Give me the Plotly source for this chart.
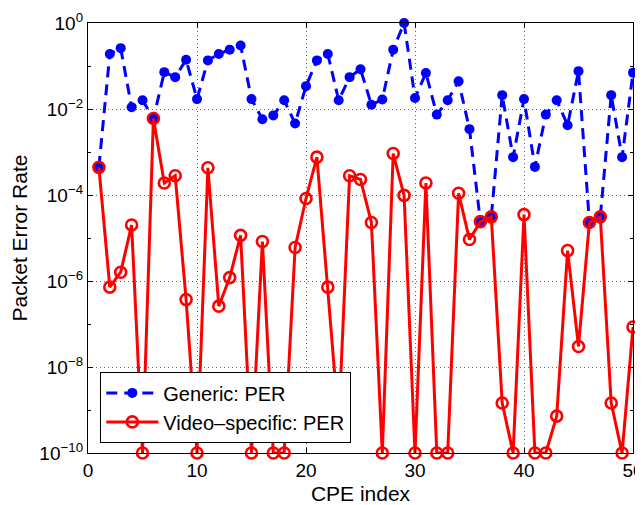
import plotly.graph_objects as go

cpe_index = list(range(1, 51))

generic_per = [
    4.5e-4, 0.19, 0.26, 0.011, 0.016, 0.006, 0.072, 0.055, 0.14, 0.017,
    0.135, 0.19, 0.24, 0.30, 0.017, 0.0058, 0.0071, 0.016, 0.0046, 0.034,
    0.135, 0.19, 0.016, 0.055, 0.084, 0.0126, 0.0166, 0.24, 1.0, 0.018,
    0.069, 0.0074, 0.016, 0.044, 0.0034, 2.4e-5, 3.1e-5, 0.021, 7.6e-4, 0.017,
    4.5e-4, 0.0074, 0.016, 0.0042, 0.076, 2.3e-5, 3.1e-5, 0.021, 7.6e-4, 0.07,
]

video_per = [
    4.4e-4, 7.2e-7, 1.6e-6, 2.0e-5, 1e-10, 0.006, 1.9e-4, 2.8e-4, 3.7e-7, 1e-10,
    4.3e-4, 2.6e-7, 1.2e-6, 1.15e-5, 1e-10, 8.3e-6, 1e-10, 1e-10, 6.0e-6, 8.3e-5,
    7.6e-4, 7.2e-7, 5e-10, 2.8e-4, 2.3e-4, 2.3e-5, 1e-10, 9.2e-4, 9.8e-5, 1e-10,
    1.9e-4, 1e-10, 1e-10, 1.1e-4, 9.2e-6, 2.4e-5, 3.1e-5, 1.45e-9, 1e-10, 3.5e-5,
    1e-10, 1e-10, 7.2e-10, 5.1e-6, 3.0e-8, 2.3e-5, 3.1e-5, 1.45e-9, 1e-10, 8.5e-8,
]

y_tick_vals = [1e0, 1e-2, 1e-4, 1e-6, 1e-8, 1e-10]
y_tick_text = ["10<sup>0</sup>", "10<sup>\u22122</sup>", "10<sup>\u22124</sup>",
               "10<sup>\u22126</sup>", "10<sup>\u22128</sup>", "10<sup>\u221210</sup>"]
x_tick_vals = [0, 10, 20, 30, 40, 50]

FONT = "Liberation Sans, Arial, Helvetica, sans-serif"

fig = go.Figure()
fig.add_trace(go.Scatter(
    x=cpe_index, y=generic_per, mode="lines+markers", name="Generic: PER",
    line=dict(color="#0000ff", width=3, dash="11px,7px"),
    marker=dict(symbol="circle", size=10, color="#0000ff"),
    cliponaxis=False,
))
fig.add_trace(go.Scatter(
    x=cpe_index, y=video_per, mode="lines+markers", name="Video\u2013specific: PER",
    line=dict(color="#ff0000", width=3),
    marker=dict(symbol="circle-open", size=11, color="#ff0000",
                line=dict(width=2.6, color="#ff0000")),
    cliponaxis=False,
))

# page body has an 8px default margin, so the figure is sized to fit the window
fig.update_layout(
    width=636, height=497,
    margin=dict(l=80, r=11, t=15, b=52),
    paper_bgcolor="white", plot_bgcolor="white",
    font=dict(family=FONT, size=19, color="black"),
    showlegend=True,
    legend=dict(
        x=0.022, y=0.023, xanchor="left", yanchor="bottom",
        bgcolor="white", bordercolor="black", borderwidth=1.3,
        font=dict(size=20, family=FONT), tracegroupgap=0, itemwidth=52,
    ),
)
fig.update_xaxes(
    range=[0, 50], tickvals=x_tick_vals, automargin=False,
    ticklabeloverflow="allow",
    showline=True, linecolor="black", linewidth=1.3, mirror="ticks",
    ticks="inside", ticklen=5, tickcolor="black",
    showgrid=True, gridcolor="#666666", griddash="1px,3px", gridwidth=1,
    zeroline=False,
    title=dict(text="CPE index", font=dict(size=21), standoff=6),
    tickfont=dict(size=19),
)
fig.update_yaxes(
    type="log", range=[-10, 0], automargin=False,
    tickvals=y_tick_vals, ticktext=y_tick_text,
    showline=True, linecolor="black", linewidth=1.3, mirror="ticks",
    ticks="inside", ticklen=5, tickcolor="black",
    showgrid=True, gridcolor="#666666", griddash="1px,3px", gridwidth=1,
    zeroline=False,
    minor=dict(ticks="inside", ticklen=3, tickcolor="black", dtick=1, showgrid=False),
    title=dict(text="Packet Error Rate", font=dict(size=21), standoff=12),
    tickfont=dict(size=19),
)

fig.write_html("out.html")
